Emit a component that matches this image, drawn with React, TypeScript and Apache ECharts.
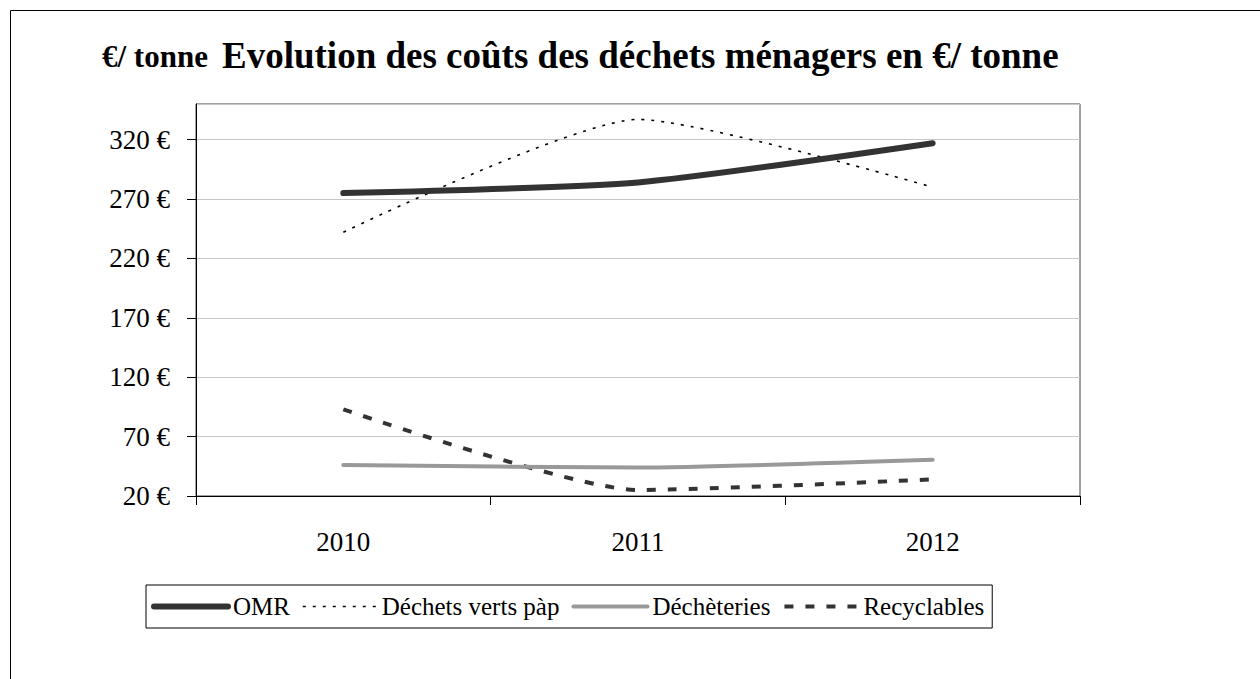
import React, { useEffect, useRef } from "react";
import * as echarts from "echarts";

const years = ["2010", "2011", "2012"];
const omr = [275, 284, 317];
const dechetsVerts = [242, 337, 280];
const decheteries = [46, 44, 50.5];
const recyclables = [93, 25, 34];

const yMin = 20;
const yMax = 350;
const yStep = 50;

const FONT = "'Liberation Serif', 'Times New Roman', serif";

export default function App() {
  const ref = useRef<HTMLDivElement>(null);
  useEffect(() => {
    if (!ref.current) return;
    const chart = echarts.init(ref.current, null, { renderer: "svg" });
    chart.setOption({
      animation: false,
      backgroundColor: "#ffffff",
      textStyle: { fontFamily: FONT },
      title: [
        {
          text: "Evolution des coûts des déchets ménagers en €/ tonne",
          left: 222,
          top: 37,
          padding: 0,
          textStyle: { fontFamily: FONT, fontSize: 37, fontWeight: "bold", color: "#000" },
        },
        {
          text: "€/ tonne",
          left: 102,
          top: 41,
          padding: 0,
          textStyle: { fontFamily: FONT, fontSize: 31, fontWeight: "bold", color: "#000" },
        },
      ],
      graphic: [
        {
          type: "rect",
          shape: { x: 10.5, y: 10.5, width: 1400, height: 800 },
          style: { fill: "none", stroke: "#000", lineWidth: 1 },
          silent: true,
        },
      ],
      grid: {
        left: 196,
        right: 180,
        top: 104,
        bottom: 183,
        show: true,
        borderColor: "#444",
        borderWidth: 1,
        containLabel: false,
      },
      legend: {
        left: 146,
        top: 585,
        padding: [9, 8, 9, 5],
        itemGap: 12,
        itemWidth: 74,
        itemHeight: 14,
        borderColor: "#000",
        borderWidth: 1,
        itemStyle: { opacity: 0 },
        lineStyle: { width: "inherit" },
        textStyle: { fontFamily: FONT, fontSize: 25, color: "#000" },
        data: ["OMR", "Déchets verts pàp", "Déchèteries", "Recyclables"],
      },
      xAxis: {
        type: "category",
        data: years,
        boundaryGap: true,
        axisLine: { lineStyle: { color: "#000", width: 1 } },
        axisTick: { show: true, length: 9, lineStyle: { color: "#000" } },
        axisLabel: { fontFamily: FONT, fontSize: 27, color: "#000", margin: 32 },
        splitLine: { show: false },
      },
      yAxis: [
        {
          type: "value",
          min: yMin,
          max: yMax,
          show: false,
          splitLine: { show: false },
        },
        {
          type: "value",
          min: 0,
          max: yMax - yMin,
          interval: yStep,
          position: "left",
          axisLine: { show: true, lineStyle: { color: "#000", width: 1 } },
          axisTick: { show: true, length: 9, inside: false, lineStyle: { color: "#000" } },
          axisLabel: {
            fontFamily: FONT,
            fontSize: 27,
            color: "#000",
            margin: 26,
            showMaxLabel: false,
            formatter: (v: number) => `${v + yMin} €`,
          },
          splitLine: { show: true, lineStyle: { color: "#c6c6c6", width: 1 } },
        },
      ],
      series: [
        {
          name: "OMR",
          type: "line",
          yAxisIndex: 0,
          data: omr,
          smooth: 0.2,
          symbol: "none",
          lineStyle: { color: "#333333", width: 6, cap: "round" },
          itemStyle: { color: "#333333" },
          z: 5,
        },
        {
          name: "Déchets verts pàp",
          type: "line",
          yAxisIndex: 0,
          data: dechetsVerts,
          smooth: 0.2,
          symbol: "none",
          lineStyle: { color: "#000000", width: 1.6, type: [3, 7] },
          itemStyle: { color: "#000000" },
          z: 4,
        },
        {
          name: "Déchèteries",
          type: "line",
          yAxisIndex: 0,
          data: decheteries,
          smooth: 0.2,
          symbol: "none",
          lineStyle: { color: "#999999", width: 4, cap: "round" },
          itemStyle: { color: "#999999" },
          z: 3,
        },
        {
          name: "Recyclables",
          type: "line",
          yAxisIndex: 0,
          data: recyclables,
          smooth: 0.2,
          symbol: "none",
          lineStyle: { color: "#333333", width: 4, type: [9, 12] },
          itemStyle: { color: "#333333" },
          z: 2,
        },
      ],
    });
    return () => chart.dispose();
  }, []);
  return (
    <div
      ref={ref}
      style={{ position: "fixed", left: 0, top: 0, width: 1260, height: 679 }}
    />
  );
}
